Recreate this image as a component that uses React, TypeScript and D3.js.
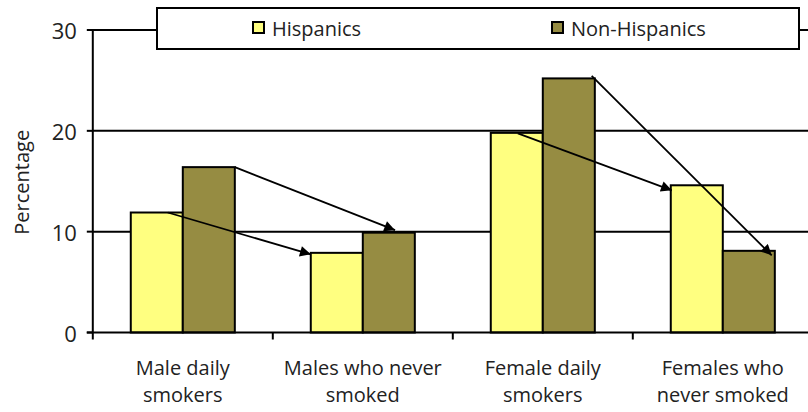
import React from "react";
import * as d3 from "d3";

const categories = [
  ["Male daily", "smokers"],
  ["Males who never", "smoked"],
  ["Female daily", "smokers"],
  ["Females who", "never smoked"],
];
const seriesNames = ["Hispanics", "Non-Hispanics"];
const hispanics = [11.9, 7.9, 19.8, 14.6];
const nonHispanics = [16.4, 9.9, 25.2, 8.1];
const yTicks = [0, 10, 20, 30];
const colors = ["#FFFF80", "#968C42"];

// arrows: from category -> to category for a series
const arrowsFrom = [0, 0, 2, 2];
const arrowsTo = [1, 1, 3, 3];
const arrowsSeries = [0, 1, 0, 1];

const W = 808;
const H = 412;
const FONT = "'Open Sans', Lato, sans-serif";

export default function App() {
  const left = 92.8;
  const step = 180;
  const x0 = d3
    .scaleBand<number>()
    .domain(d3.range(categories.length))
    .range([left, left + step * categories.length])
    .padding(0);
  const x1 = d3
    .scaleBand<number>()
    .domain([0, 1])
    .range([0, x0.bandwidth()])
    .paddingInner(0)
    .paddingOuter(0.73);
  const y = d3.scaleLinear().domain([0, 30]).range([332.5, 30]);
  const values = [hispanics, nonHispanics];
  const bw = x1.bandwidth();

  const arrowSpec = [
    { sf: 0.71, sdy: 0, ef: 0.0, edy: 1.5 },
    { sf: 1.0, sdy: 0, ef: 0.62, edy: -2.5 },
    { sf: 0.52, sdy: 0.5, ef: 0.02, edy: 5 },
    { sf: 0.94, sdy: -2.5, ef: 0.94, edy: 4.5 },
  ];

  return (
    <svg
      width={W}
      height={H}
      style={{ position: "absolute", left: 0, top: 0, background: "#fff" }}
      fontFamily={FONT}
    >
      <defs>
        <marker
          id="ah"
          viewBox="0 0 10 10"
          refX="10"
          refY="5"
          markerWidth="7"
          markerHeight="6"
          markerUnits="strokeWidth"
          orient="auto"
        >
          <path d="M0,0 L10,5 L0,10 z" fill="#000" />
        </marker>
      </defs>
      {/* gridlines */}
      {yTicks
        .filter((t) => t > 0)
        .map((t) => (
          <line
            key={"g" + t}
            x1={left}
            x2={W}
            y1={y(t)}
            y2={y(t)}
            stroke="#000"
            strokeWidth={2}
          />
        ))}
      {/* bars */}
      {categories.map((c, i) =>
        values.map((vals, s) => (
          <rect
            key={`b${i}-${s}`}
            x={x0(i)! + x1(s)!}
            y={y(vals[i])}
            width={bw}
            height={y(0) - y(vals[i])}
            fill={colors[s]}
            stroke="#000"
            strokeWidth={2}
          />
        ))
      )}
      {/* axes */}
      <line x1={left} x2={left} y1={y(30) - 1} y2={y(0)} stroke="#000" strokeWidth={2} />
      <line x1={left - 6} x2={W} y1={y(0)} y2={y(0)} stroke="#000" strokeWidth={2} />
      {yTicks.map((t) => (
        <g key={"t" + t}>
          <line x1={left - 6} x2={left} y1={y(t)} y2={y(t)} stroke="#000" strokeWidth={2} />
          <text
            x={left - 16}
            y={y(t)}
            textAnchor="end"
            dominantBaseline="central"
            fontSize={22}
            fill="#222"
          >
            {t}
          </text>
        </g>
      ))}
      {d3.range(categories.length + 1).map((i) => (
        <line
          key={"xt" + i}
          x1={left + i * step}
          x2={left + i * step}
          y1={y(0)}
          y2={y(0) + 7}
          stroke="#000"
          strokeWidth={2}
        />
      ))}
      {categories.map((c, i) => (
        <text
          key={"c" + i}
          x={x0(i)! + x0.bandwidth() / 2}
          y={375}
          textAnchor="middle"
          fontSize={20}
          fill="#222"
        >
          {c.map((l, k) => (
            <tspan key={k} x={x0(i)! + x0.bandwidth() / 2} dy={k === 0 ? 0 : 27}>
              {l}
            </tspan>
          ))}
        </text>
      ))}
      <text
        transform={`translate(29,${y(15) + 1}) rotate(-90)`}
        textAnchor="middle"
        fontSize={20}
        fill="#222"
      >
        Percentage
      </text>
      {/* arrows */}
      {arrowSpec.map((a, k) => {
        const s = arrowsSeries[k];
        const vals = values[s];
        const fi = arrowsFrom[k];
        const ti = arrowsTo[k];
        const xs = x0(fi)! + x1(s)! + bw * a.sf;
        const ys = y(vals[fi]) + a.sdy;
        const xe = x0(ti)! + x1(s)! + bw * a.ef;
        const ye = y(vals[ti]) + a.edy;
        return (
          <line
            key={"a" + k}
            x1={xs}
            y1={ys}
            x2={xe}
            y2={ye}
            stroke="#000"
            strokeWidth={1.8}
            markerEnd="url(#ah)"
          />
        );
      })}
      {/* legend */}
      <rect x={157} y={8} width={642} height={41} fill="#fff" stroke="#000" strokeWidth={2} />
      {seriesNames.map((n, s) => {
        const lx = s === 0 ? 253 : 552;
        return (
          <g key={"l" + s}>
            <rect x={lx} y={22} width={11} height={11} fill={colors[s]} stroke="#000" strokeWidth={2} />
            <text x={lx + 19} y={28} dominantBaseline="central" fontSize={20} fill="#222">
              {n}
            </text>
          </g>
        );
      })}
    </svg>
  );
}
